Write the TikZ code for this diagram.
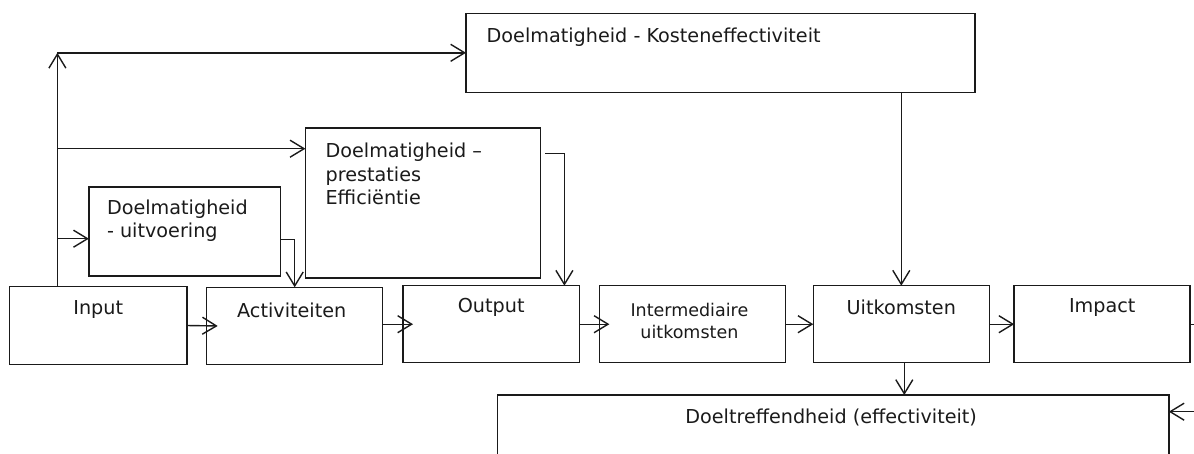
\documentclass[tikz,border=0pt]{standalone}
\usepackage{fontspec}
\setmainfont{DejaVu Sans}
\usetikzlibrary{arrows.meta,calc}
\definecolor{ink}{HTML}{1A1A1A}
\begin{document}
\begin{tikzpicture}[x=1pt,y=-1pt,
  box/.style={draw=ink, line width=1.5pt, inner sep=0pt, outer sep=0pt},
  lbl/.style={inner sep=0pt, text=ink, font=\fontsize{19.2}{23.3}\selectfont},
  link/.style={draw=ink, line width=1.4pt},
  arr/.style={link, -{Straight Barb[length=14pt,width=17pt,line width=1.4pt]}}]

\useasboundingbox (0,0) rectangle (1194,453);
\clip (0,0) rectangle (1194,453);

% evaluation boxes
\node[box, minimum width=509pt, minimum height=79pt]    (kosten) at (720.5,52.8) {};
\node[box, minimum width=235pt, minimum height=149.7pt] (prest)  at (422.9,202.9) {};
\node[box, minimum width=191.7pt, minimum height=89.3pt] (uitv)  at (184.7,231.4) {};

% chain of results
\node[box, minimum width=177.2pt, minimum height=77.6pt] (input)  at (98.2,325.5) {};
\node[box, minimum width=176pt, minimum height=77pt]     (activ)  at (294.7,325.8) {};
\node[box, minimum width=176.4pt, minimum height=77pt]   (output) at (491.2,324.2) {};
\node[box, minimum width=186pt, minimum height=77pt]     (inter)  at (692.4,324.2) {};
\node[box, minimum width=176pt, minimum height=77pt]     (uitk)   at (901.3,324.2) {};
\node[box, minimum width=176pt, minimum height=77pt]     (impact) at (1102.2,324.2) {};

% effectiveness box (runs on below the frame)
\node[box, minimum width=671.3pt, minimum height=85pt] (doel) at (833.15,437.5) {};

% labels
\node[lbl, anchor=west] at ($(kosten.north west)+(20.5,23.5)$) {Doelmatigheid - Kosteneffectiviteit};
\node[lbl, anchor=west, align=left] at ($(prest.north west)+(20,46)$) {Doelmatigheid –\\prestaties\\Efficiëntie};
\node[lbl, anchor=west, align=left] at ($(uitv.north west)+(18,34)$) {Doelmatigheid\\- uitvoering};
\node[lbl] at ($(input.north)+(0,23)$)  {Input};
\node[lbl] at ($(activ.north)+(-3,23)$) {Activiteiten};
\node[lbl] at ($(output.north)+(0,22)$) {Output};
\node[lbl, align=center, font=\fontsize{17.5}{22}\selectfont] at ($(inter.north)+(-3,35)$) {Intermediaire\\uitkomsten};
\node[lbl] at ($(uitk.north)+(0,22)$)   {Uitkomsten};
\node[lbl] at ($(impact.north)+(0,22)$) {Impact};
\node[lbl] at ($(doel.north)+(-2,22)$)  {Doeltreffendheid (effectiviteit)};

% trunk rising from Input with its three branches
\coordinate (trunktop) at (57.4,52.8);
\coordinate (tp) at (57.4,148.7);
\coordinate (tu) at (57.4,238.7);
\draw[arr] (input.north -| trunktop) -- (trunktop);
\draw[arr] (trunktop) -- (kosten.west);
\draw[arr] (tp) -- (tp -| prest.west);
\draw[arr] (tu) -- (tu -| uitv.west);

% evaluation boxes down to the chain
\draw[arr] ([yshift=-8.3pt]uitv.east) -| (activ.north);
\draw[arr] ([xshift=4.6pt,yshift=-25.3pt]prest.north east) -| ([xshift=-15pt]output.north east);
\draw[arr] (kosten.south -| uitk.north) -- (uitk.north);

% along the chain
\draw[arr, shorten >=-11pt] (input.east) -- (activ.west);
\draw[arr, shorten >=-10pt] (activ.east |- output.west) -- (output.west);
\draw[arr, shorten >=-10pt] (output.east) -- (inter.west);
\draw[arr] (inter.east) -- (uitk.west);
\draw[arr] (uitk.east) -- (impact.west);

% into effectiveness
\draw[arr] ([xshift=3pt]uitk.south) -- ([xshift=3pt]uitk.south |- doel.north);
\draw[arr] (impact.east) -- ++(40,0) |- ([yshift=-16.7pt]doel.north east);
\end{tikzpicture}
\end{document}
